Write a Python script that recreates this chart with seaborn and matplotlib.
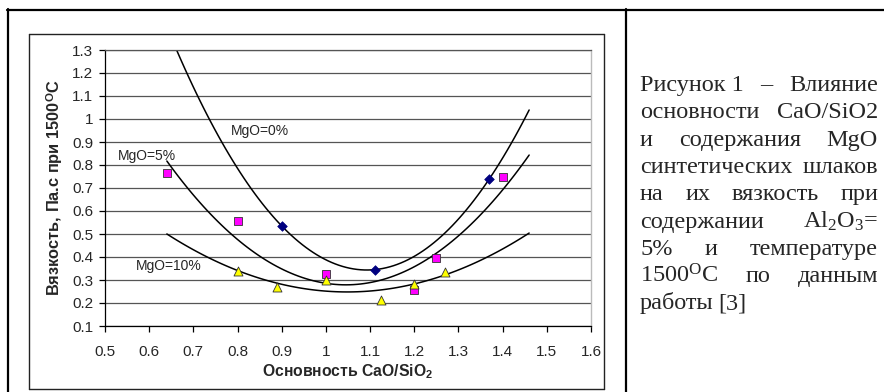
import numpy as np
import pandas as pd
import seaborn as sns
import matplotlib.pyplot as plt
from matplotlib.lines import Line2D
from matplotlib.ticker import FuncFormatter, MultipleLocator

# data
bas_0 = [0.90, 1.11, 1.37]
vis_0 = [0.535, 0.345, 0.74]
bas_5 = [0.64, 0.80, 1.00, 1.20, 1.25, 1.40]
vis_5 = [0.765, 0.555, 0.325, 0.257, 0.395, 0.748]
bas_10 = [0.80, 0.89, 1.00, 1.125, 1.20, 1.27]
vis_10 = [0.34, 0.27, 0.30, 0.213, 0.283, 0.335]
trend_range = (0.64, 1.46)

caption = [
    ["Рисунок 1", "–", "Влияние"],
    ["основности", "CaO/SiO2"],
    ["и", "содержания", "MgO"],
    ["синтетических", "шлаков"],
    ["на", "их", "вязкость", "при"],
    ["содержании", "Al$_2$O$_3$="],
    ["5%", "и", "температуре"],
    ["1500$^{O}$C", "по", "данным"],
    ["работы", "[3]"],
]

sns.set_style("white")
plt.rcParams["font.family"] = ["Liberation Sans", "DejaVu Sans"]
plt.rcParams["mathtext.fontset"] = "custom"
plt.rcParams["mathtext.rm"] = "Liberation Serif"
plt.rcParams["mathtext.it"] = "Liberation Serif"
plt.rcParams["mathtext.bf"] = "Liberation Sans:bold"

W, H = 884, 392
fig = plt.figure(figsize=(W / 100, H / 100), dpi=100)
fig.patch.set_facecolor("white")

# table borders and chart frame
def hline(y, x0, x1, lw, c="black"):
    fig.add_artist(Line2D([x0 / W, x1 / W], [1 - y / H, 1 - y / H], lw=lw, color=c))

def vline(x, y0, y1, lw, c="black"):
    fig.add_artist(Line2D([x / W, x / W], [1 - y0 / H, 1 - y1 / H], lw=lw, color=c))

hline(10, 7, 884, 1.6)
vline(8, 9, 392, 1.6)
vline(625.5, 9, 392, 1.6)
hline(34, 29, 604, 1.0, "#222222")
hline(389, 29, 604, 1.0, "#222222")
vline(29, 34, 389, 1.0, "#222222")
vline(604, 34, 389, 1.0, "#222222")

ax = fig.add_axes([105 / W, 1 - 326 / H, (591 - 105) / W, (326 - 50) / H])

# quadratic trendlines, drawn across the trend range
ax.set_xlim(*trend_range)
for bx, vy in [(bas_0, vis_0), (bas_5, vis_5), (bas_10, vis_10)]:
    sns.regplot(x=np.array(bx), y=np.array(vy), order=2, ci=None, truncate=False,
                scatter=False, ax=ax, line_kws=dict(color="black", lw=1.1))

sns.scatterplot(x=bas_0, y=vis_0, ax=ax, marker="D", s=24, color="#000080",
                edgecolor="#000080", linewidth=0.5, zorder=5)
sns.scatterplot(x=bas_5, y=vis_5, ax=ax, marker="s", s=34, color="#ff00ff",
                edgecolor="#333333", linewidth=0.6, zorder=5)
sns.scatterplot(x=bas_10, y=vis_10, ax=ax, marker="^", s=42, color="#ffff00",
                edgecolor="#333333", linewidth=0.6, zorder=5)

ax.set_xlim(0.5, 1.6)
ax.set_ylim(0.1, 1.3)
ax.xaxis.set_major_locator(MultipleLocator(0.1))
ax.yaxis.set_major_locator(MultipleLocator(0.1))
fmt = FuncFormatter(lambda v, p: f"{round(v, 2):g}")
ax.xaxis.set_major_formatter(fmt)
ax.yaxis.set_major_formatter(fmt)
ax.grid(axis="y", color="#555555", lw=0.9)
ax.grid(axis="x", visible=False)
ax.set_axisbelow(True)
for s in ["left", "bottom"]:
    ax.spines[s].set_color("black")
    ax.spines[s].set_linewidth(0.9)
ax.spines["top"].set_color("#555555")
ax.spines["top"].set_linewidth(0.9)
ax.spines["right"].set_color("#bbbbbb")
ax.spines["right"].set_linewidth(1.0)
ax.tick_params(axis="both", direction="out", length=4.5, width=0.9, color="black",
               labelsize=11, pad=4, left=True, bottom=True)
ax.tick_params(axis="x", pad=9)

ax.set_xlabel("Основность CaO/SiO$_\\mathbf{2}$", fontsize=11.3, fontweight="bold", labelpad=3)
ax.set_ylabel("Вязкость, Па.с при 1500$^\\mathbf{O}$C", fontsize=11.8, fontweight="bold",
              labelpad=5)

ax.text(0.785, 0.95, "MgO=0%", fontsize=10, transform=ax.transData, va="center")
ax.text(0.53, 0.84, "MgO=5%", fontsize=10, transform=ax.transData, va="center")
ax.text(0.57, 0.36, "MgO=10%", fontsize=10, transform=ax.transData, va="center")

# justified caption in the right cell
fig.canvas.draw()
rend = fig.canvas.get_renderer()
x0, x1, base0, step = 640, 878, 91, 27.3
for i, words in enumerate(caption):
    y = 1 - (base0 + i * step) / H
    texts = [fig.text(0, y, w, fontsize=17.5, family="Liberation Serif", va="baseline")
             for w in words]
    widths = [t.get_window_extent(rend).width for t in texts]
    if i == len(caption) - 1:
        gap = 5
    else:
        gap = (x1 - x0 - sum(widths)) / (len(words) - 1)
    x = x0
    for t, w in zip(texts, widths):
        t.set_x(x / W)
        x += w + gap

fig.savefig("out.png", dpi=100)
